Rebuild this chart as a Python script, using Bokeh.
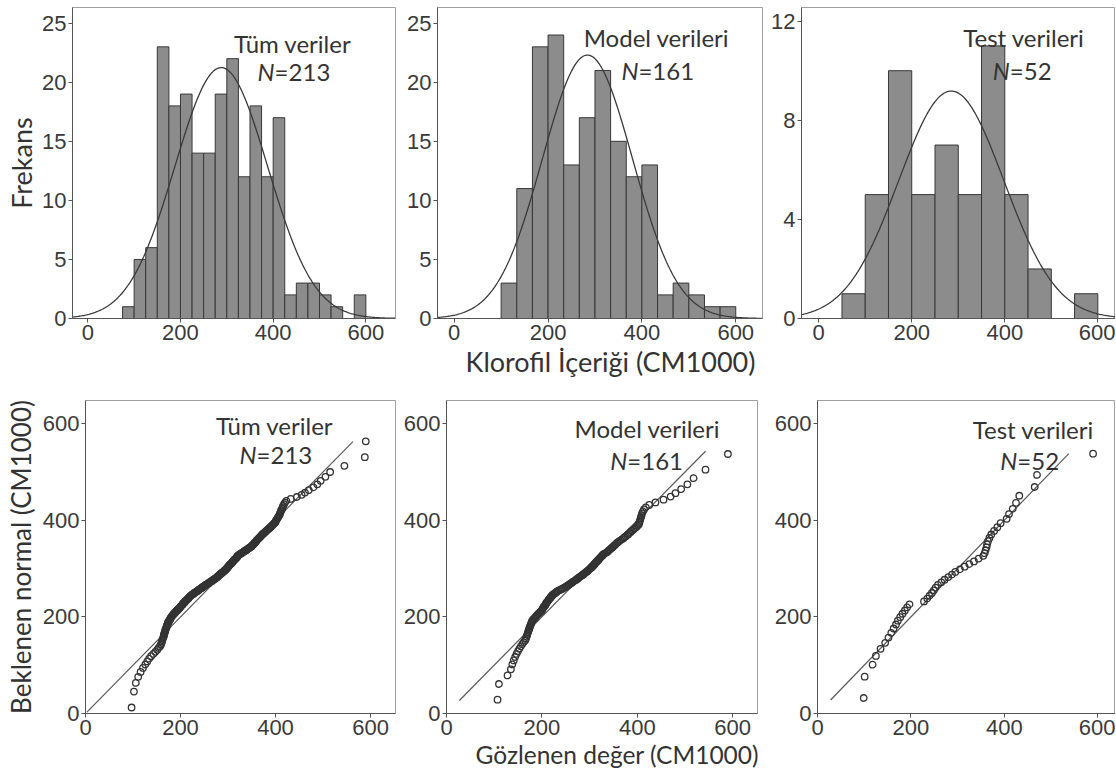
from statistics import NormalDist
import numpy as np
from bokeh.plotting import figure
from bokeh.layouts import column, row
from bokeh.models import Range1d, Label, Title, FixedTicker
from bokeh.embed import file_html
from bokeh.resources import INLINE

# ---------------- data ----------------
# Histograms (Frekans)
bin_start_all, bin_width_all = 75, 25
counts_all = [1, 5, 6, 23, 18, 19, 14, 14, 19, 22, 12, 18, 12, 17, 2, 3, 3, 2, 1, 0, 2]
bin_start_model, bin_width_model = 100, 100 / 3
counts_model = [3, 11, 23, 24, 13, 17, 21, 15, 12, 13, 2, 3, 2, 1, 1]
bin_start_test, bin_width_test = 50, 50
counts_test = [1, 5, 10, 5, 7, 5, 11, 5, 2, 0, 1]

# fitted normal curves (mean, sd)
fit_all = (288, 100)
fit_model = (284, 96)
fit_test = (285, 113)

# Q-Q plots: observed values (sorted)
obs_all = [97,
           102, 106, 111, 116, 121,
           126, 130, 134, 138, 143, 147,
           151, 154, 157, 159, 160, 161, 162, 163, 164, 165, 165, 166, 167, 168, 168, 169, 170, 171, 171, 172, 173, 174, 174,
           176, 177, 178, 179, 180, 181, 183, 184, 185, 187, 188, 190, 191, 193, 194, 196, 197, 199,
           200, 201, 203, 204, 205, 206, 208, 209, 210, 212, 213, 214, 216, 217, 218, 220, 221, 222, 224,
           226, 228, 229, 231, 233, 235, 237, 238, 240, 242, 244, 245, 247, 249,
           251, 252, 254, 256, 258, 260, 261, 263, 265, 267, 268, 270, 272, 274,
           275, 277, 278, 279, 281, 282, 284, 285, 286, 288, 289, 291, 292, 293, 295, 296, 297, 298, 299,
           300, 301, 302, 303, 304, 305, 307, 308, 309, 310, 311, 312, 313, 314, 316, 317, 318, 319, 320, 321, 322, 324,
           326, 328, 330, 332, 334, 336, 338, 340, 342, 344, 346, 348,
           350, 351, 352, 354, 355, 356, 358, 359, 360, 362, 363, 365, 366, 368, 369, 371, 372, 374,
           376, 378, 380, 382, 384, 386, 388, 390, 392, 394, 396, 398,
           400, 401, 402, 404, 405, 406, 408, 409, 410, 411, 412, 414, 415, 416, 418, 420, 423,
           432, 445, 455, 462, 470, 480, 488, 495, 505, 515, 545, 588, 590]
obs_model = [107, 110, 128,
             135, 138, 141, 144, 147, 150, 153, 156, 159, 162, 165,
             167, 168, 169, 170, 171, 172, 173, 174, 175, 176, 177, 178, 179, 180, 182, 184, 186, 188, 190, 192, 194, 196, 198,
             200, 201, 202, 203, 204, 206, 207, 208, 209, 210, 212, 213, 214, 215, 217, 218, 219, 221, 222, 224, 226, 228, 230, 232,
             235, 238, 241, 244, 247, 250, 252, 255, 257, 259, 261, 263, 265,
             268, 270, 272, 274, 276, 278, 280, 282, 284, 286, 288, 290, 292, 294, 296, 297, 299,
             301, 302, 304, 305, 307, 308, 310, 311, 312, 314, 315, 317, 318, 320, 321, 323, 324, 326, 327, 329, 331,
             335, 337, 339, 341, 343, 345, 347, 349, 351, 353, 355, 357, 359, 362, 365,
             368, 371, 373, 376, 379, 381, 384, 386, 389, 392, 395, 398,
             401, 403, 404, 405, 406, 407, 408, 409, 410, 412, 414, 418, 425,
             438, 455, 470, 480, 492, 505, 518, 543, 590]
obs_test = [99,
            101, 118, 125, 135, 145,
            152, 158, 163, 168, 172, 177, 182, 187, 192, 197,
            228, 235, 240, 245, 249,
            253, 258, 265, 272, 280, 288, 295,
            305, 315, 325, 335, 345,
            355, 358, 360, 362, 363, 365, 368, 372, 378, 385, 392,
            405, 410, 418, 425, 432,
            465, 470,
            590]
qq_all = (288, 100)
qq_model = (283, 95.5)
qq_test = (285, 112)
line_all = [3, 563]
line_model = [27, 543]
line_test = [28, 538]

xticks = [0, 200, 400, 600]
hist_yticks = [0, 5, 10, 15, 20, 25]
test_yticks = [0, 4, 8, 12]

TXT = "Lato"
NUM = "Liberation Sans"
TXT_COLOR = "#333333"


def base(width, height, xr, yr, mbl, mbr, mbt, mbb, yticks):
    p = figure(width=width, height=height, x_range=Range1d(*xr), y_range=Range1d(*yr),
               output_backend="svg", toolbar_location=None,
               min_border_left=mbl, min_border_right=mbr,
               min_border_top=mbt, min_border_bottom=mbb)
    p.grid.visible = False
    p.outline_line_color = "#a0a0a0"
    p.background_fill_color = "white"
    p.border_fill_color = "white"
    for ax in (p.xaxis[0], p.yaxis[0]):
        ax.axis_line_color = "#555555"
        ax.major_tick_out = 4
        ax.major_tick_in = 0
        ax.minor_tick_out = 0
        ax.minor_tick_in = 0
        ax.major_tick_line_color = "#555555"
        ax.major_label_text_font = NUM
        ax.major_label_text_font_size = "22px"
        ax.major_label_text_color = "#3a3a3a"
        ax.major_label_standoff = 2
    p.xaxis[0].ticker = FixedTicker(ticks=xticks)
    p.yaxis[0].ticker = FixedTicker(ticks=yticks)
    return p


def hist(p, start, width, counts, fit):
    n = len(counts)
    left = [start + i * width for i in range(n)]
    right = [start + (i + 1) * width for i in range(n)]
    p.quad(left=left, right=right, top=counts, bottom=0,
           fill_color="#8c8c8c", line_color="#383838", line_width=1)
    total = sum(counts)
    mu, sd = fit
    xs = np.linspace(p.x_range.start, p.x_range.end, 300)
    ys = total * width * np.exp(-0.5 * ((xs - mu) / sd) ** 2) / (sd * np.sqrt(2 * np.pi))
    p.line(xs, ys, line_color="#3a3a3a", line_width=1.3)


def qq(p, obs, fit, line):
    mu, sd = fit
    n = len(obs)
    nd = NormalDist(mu, sd)
    exp_vals = [nd.inv_cdf((i + 1 - 0.375) / (n + 0.25)) for i in range(n)]
    p.line(line, line, line_color="#5a5a5a", line_width=1.2)
    p.scatter(obs, exp_vals, marker="circle", size=6.5, fill_color=None,
              line_color="#333333", line_width=1.3)


def note(p, x, y, title, nval, off, dy):
    p.add_layout(Label(x=x, y=y, text=title, text_align="center", text_baseline="middle",
                       text_font=TXT, text_font_size="24px", text_color=TXT_COLOR))
    p.add_layout(Label(x=x, y=y, text="N", text_align="right", text_baseline="middle", x_offset=off,
                       y_offset=dy, text_font=TXT, text_font_size="24px", text_font_style="italic",
                       text_color=TXT_COLOR))
    p.add_layout(Label(x=x, y=y, text="=" + str(nval), text_align="left", text_baseline="middle", x_offset=off,
                       y_offset=dy, text_font=TXT, text_font_size="24px", text_color=TXT_COLOR))


def ylabel(p, text, size, standoff):
    ax = p.yaxis[0]
    ax.axis_label = text
    ax.axis_label_text_font = TXT
    ax.axis_label_text_font_size = size
    ax.axis_label_text_font_style = "normal"
    ax.axis_label_text_color = TXT_COLOR
    ax.axis_label_standoff = standoff


def xtitle(p, text, offset, size):
    p.add_layout(Title(text=text, align="left", offset=offset, standoff=0,
                       text_font=TXT, text_font_size=size, text_font_style="normal",
                       text_color=TXT_COLOR), "below")


TOP_H, BOT_H = 392, 380

# ---------------- top row: histograms ----------------
p1 = base(400, TOP_H, (-33, 664), (0, 26.33), 72, 5, 7, 74, hist_yticks)
hist(p1, bin_start_all, bin_width_all, counts_all, fit_all)
ylabel(p1, "Frekans", "27px", 1)
note(p1, 442, 23.3, "Tüm veriler", len(obs_all), -18, -28)

p2 = base(368, TOP_H, (-35.6, 657), (0, 26.33), 37, 6, 7, 74, hist_yticks)
hist(p2, bin_start_model, bin_width_model, counts_model, fit_model)
note(p2, 431, 23.8, "Model verileri", len(obs_model), -18, -33)
xtitle(p2, "Klorofil İçeriği (CM1000)", 28, "27px")

p3 = base(347, TOP_H, (-37, 638), (0, 12.55), 32, 0, 7, 74, test_yticks)
hist(p3, bin_start_test, bin_width_test, counts_test, fit_test)
note(p3, 441, 11.34, "Test verileri", len(obs_test), -14, -33)

# ---------------- bottom row: Q-Q plots ----------------
p4 = base(400, BOT_H, (0, 652.6), (0, 648), 85, 5, 8, 59, xticks)
qq(p4, obs_all, qq_all, line_all)
ylabel(p4, "Beklenen normal (CM1000)", "26px", 3)
note(p4, 398, 596.5, "Tüm veriler", len(obs_all), -18, -29)

p5 = base(371, BOT_H, (0, 652), (0, 648), 46, 14, 8, 59, xticks)
qq(p5, obs_model, qq_model, line_model)
note(p5, 421, 590, "Model verileri", len(obs_model), -20, -32)
xtitle(p5, "Gözlenen değer (CM1000)", 29, "24.5px")

p6 = base(344, BOT_H, (0, 638), (0, 648), 43, 0, 8, 59, xticks)
qq(p6, obs_test, qq_test, line_test)
note(p6, 462, 588, "Test verileri", len(obs_test), -16, -31)

layout = column(row(p1, p2, p3), row(p4, p5, p6))
open("out.html", "w").write(file_html(layout, INLINE))
